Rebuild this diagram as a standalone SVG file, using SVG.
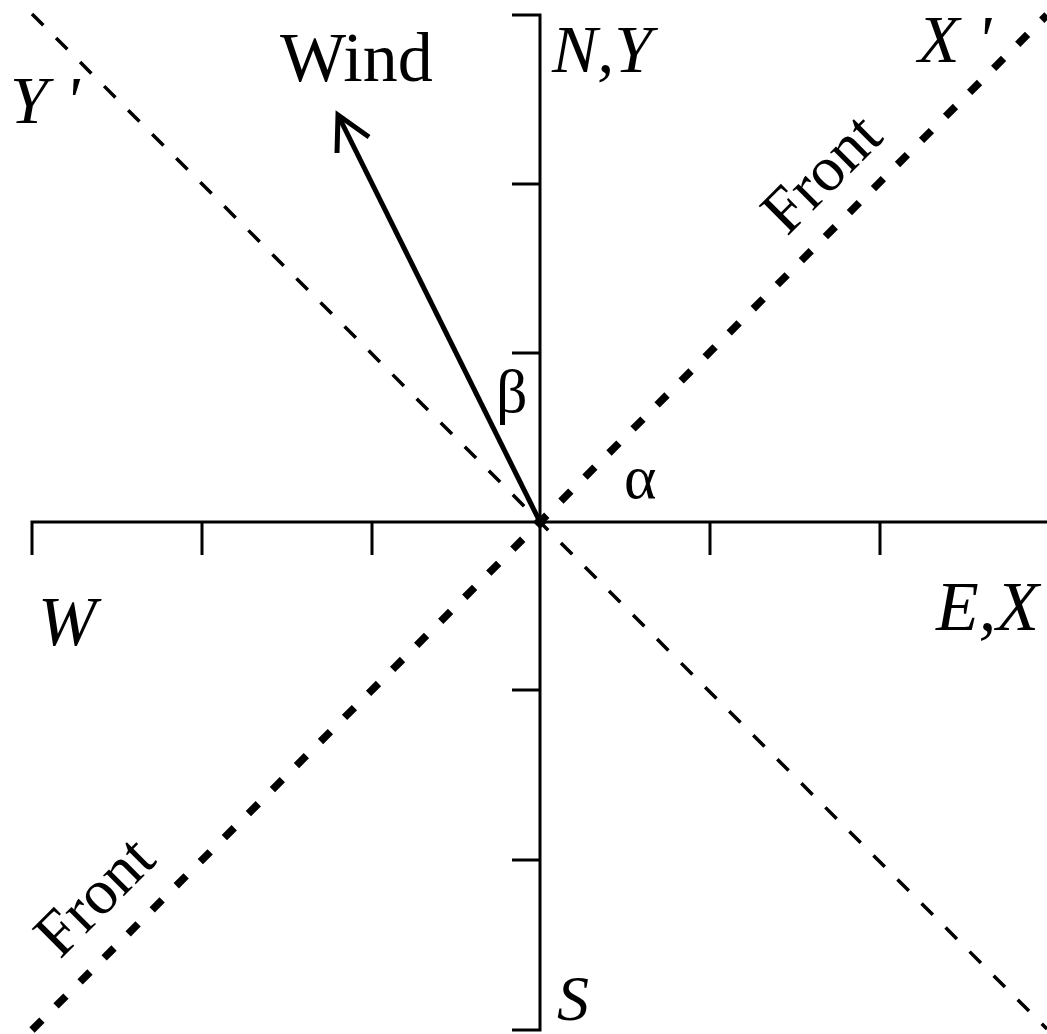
<svg xmlns="http://www.w3.org/2000/svg" width="1047" height="1034" viewBox="0 0 1047 1034">
<style>
.i{font-style:italic}
.ax{stroke:#000;stroke-width:3;fill:none}
</style>
<rect width="1047" height="1034" fill="#fff"/>
<g id="connectors">
<g id="axes" class="ax">
<path d="M32 555 V522 H1047"/>
<path d="M202 522 V555 M372 522 V555 M710 522 V555 M880 522 V555"/>
<path d="M512 15 H540 V1030 H512"/>
<path d="M512 184 H540 M512 353 H540 M512 690 H540 M512 860 H540"/>
</g>
<line id="axis-rotated" x1="32" y1="14" x2="1047" y2="1029" stroke="#000" stroke-width="3.5" stroke-dasharray="16 18"/>
<line id="front-line" x1="32" y1="1030" x2="1047" y2="15" stroke="#000" stroke-width="7.5" stroke-dasharray="14 20"/>
<g id="wind-arrow" stroke="#000" stroke-width="5" fill="none">
<path d="M540 522 L338 115"/>
<path d="M369 137 L338 115 L337 153"/>
</g>
<rect x="535" y="517" width="10" height="10" transform="rotate(45 540 522)" fill="#000"/>
</g>
<g id="labels" font-family="'Liberation Serif', serif" fill="#000">
<text x="280" y="81" font-size="70">Wind</text>
<text class="i" x="552" y="72" font-size="68">N,Y</text>
<text class="i" x="10" y="123" font-size="68">Y '</text>
<text class="i" x="918" y="62" font-size="68">X '</text>
<text class="i" x="38" y="645" font-size="70">W</text>
<text class="i" x="936" y="630" font-size="70">E,X</text>
<text class="i" x="557" y="1020" font-size="64">S</text>
<text x="496" y="412" font-size="62">β</text>
<text x="624" y="498" font-size="62">α</text>
<text x="0" y="0" font-size="64" text-anchor="middle" transform="translate(836 188) rotate(-45)">Front</text>
<text x="0" y="0" font-size="64" text-anchor="middle" transform="translate(109 911) rotate(-45)">Front</text>
</g>
</svg>
